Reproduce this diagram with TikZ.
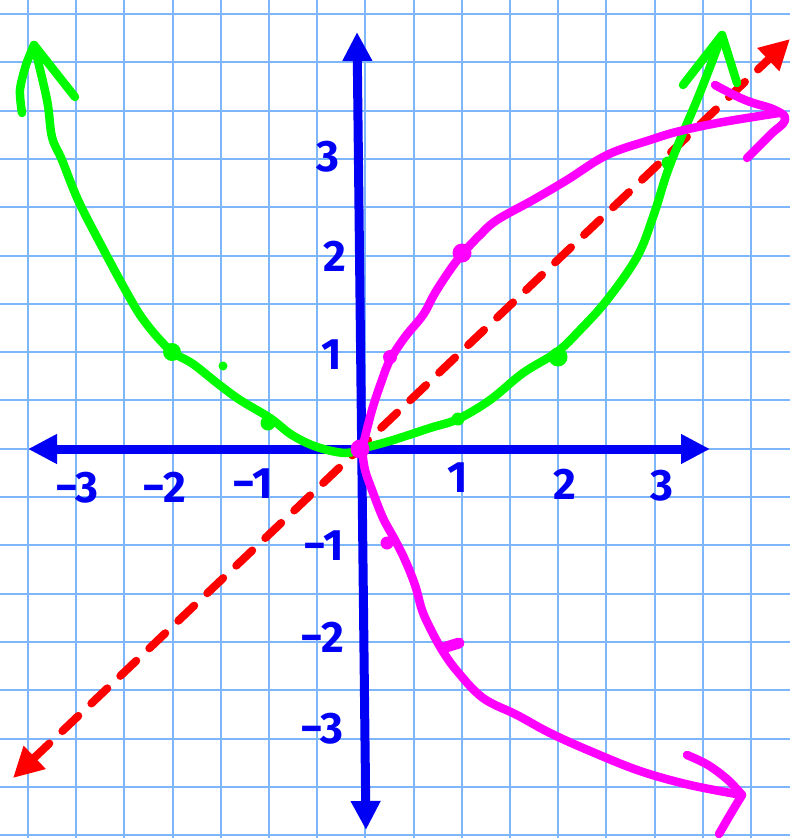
\documentclass[tikz,border=0pt]{standalone}
\usepackage{fontspec}
\setmainfont{Fira Sans}
\usetikzlibrary{arrows.meta}
\definecolor{gridblue}{RGB}{125,182,250}
\definecolor{axisblue}{RGB}{0,0,245}
\definecolor{pengreen}{RGB}{0,250,0}
\definecolor{penmag}{RGB}{255,0,255}
\definecolor{penred}{RGB}{255,0,0}
\tikzset{
  gridline/.style={gridblue,line width=2pt},
  axisline/.style={axisblue,line width=9pt},
  axtip/.tip={Triangle[length=29pt,width=28pt]},
  redtip/.tip={Triangle[length=30pt,width=30pt]},
  pen/.style={line width=8.5pt,line cap=round,line join=round},
  gpen/.style={pen,pengreen},
  mpen/.style={pen,penmag},
  rline/.style={penred,line width=8pt,line cap=round,dash pattern=on 22pt off 18pt},
  lbl/.style={text=axisblue,font=\fontsize{44}{44}\selectfont\bfseries,inner sep=0pt},
  gdot/.style={fill=pengreen},
  mdot/.style={fill=penmag}
}
\begin{document}
\begin{tikzpicture}[x=1pt,y=-1pt]
\useasboundingbox (0,0) rectangle (790,838);
\fill[white] (0,0) rectangle (790,838);
% grid
\foreach \i in {0,...,15} \draw[gridline] ({28+48.2*\i},0) -- ({28+48.2*\i},838);
\foreach \j in {0,...,17} \draw[gridline] (0,{14+48.3*\j}) -- (790,{14+48.3*\j});
% axes
\coordinate (xl) at (28,449);
\coordinate (xr) at (710,449);
\coordinate (yt) at (357,32);
\coordinate (yb) at (366,830);
\draw[axisline,axtip-axtip] (xl) -- (xr);
\draw[axisline,axtip-axtip] (yt) -- (yb);
% red dashed line y=x
\coordinate (rl) at (13,778);
\coordinate (rr) at (790,39);
\draw[rline,redtip-redtip] (rl) -- (rr);
% green parabola
\draw[gpen] plot[smooth,tension=0.6] coordinates {(34,45) (47,100) (52,137) (62,160) (78,200) (100,243) (127,293) (145,322) (170,350) (193,364) (217,383) (240,400) (270,418) (292,435) (317,447) (345,453) (360,449)};
\draw[gpen] plot[smooth] coordinates {(22,113) (20,90) (26,65) (34,45)};
\draw[gpen] (34,45) -- (75,97);
\draw[gpen] plot[smooth,tension=0.6] coordinates {(360,449) (390,441) (430,428) (458,419) (490,400) (523,373) (557,352) (580,330) (607,300) (637,257) (653,217) (667,173) (680,140) (697,100) (710,67) (722,35)};
\draw[gpen] (683,85) -- (722,35) -- (737,83);
\fill[gdot] (172,352) circle (9pt);
\fill[gdot] (268,423) circle (7.5pt);
\fill[gdot] (223,366) circle (4.5pt);
\fill[gdot] (458,419) circle (6.5pt);
\fill[gdot] (558,357) circle (9.5pt);
\fill[gdot] (668,163) circle (6.5pt);
% magenta inverse
\draw[mpen] plot[smooth,tension=0.6] coordinates {(362,449) (372,410) (382,380) (390,360) (405,337) (423,315) (435,293) (450,270) (463,253) (480,235) (497,220) (533,200) (567,180) (607,155) (650,140) (680,131) (723,122) (779,113)};
\draw[mpen] plot[smooth,tension=0.7] coordinates {(715,85) (745,100) (775,110) (785,120) (770,135) (747,158)};
\draw[mpen] plot[smooth,tension=0.6] coordinates {(362,449) (365,470) (372,490) (383,518) (395,540) (405,560) (415,585) (422,610) (430,628) (442,650) (457,671) (483,698) (517,715) (550,733) (590,751) (640,771) (690,785) (742,795)};
\draw[mpen] plot[smooth,tension=0.6] coordinates {(687,755) (708,765) (728,780) (742,795)};
\draw[mpen] plot[smooth,tension=0.6] coordinates {(742,795) (730,815) (719,834)};
\fill[mdot] (360,449) circle (9.5pt);
\fill[mdot] (390,357) circle (7pt);
\fill[mdot] (462,253) circle (9.5pt);
\fill[mdot] (387,543) circle (6.5pt);
\draw[mpen,line width=11pt] (443,648) -- (459,643);
% labels
\node[lbl] (xm3) at (77,488) {−3};
\node[lbl] (xm2) at (164,487) {−2};
\node[lbl] (xm1) at (253,484) {−1};
\node[lbl] (xp1) at (458,478) {1};
\node[lbl] (xp2) at (565,484) {2};
\node[lbl] (xp3) at (662,486) {3};
\node[lbl] (yp3) at (328,157) {3};
\node[lbl] (yp2) at (335,256) {2};
\node[lbl] (yp1) at (332,355) {1};
\node[lbl] (ym1) at (324,546) {−1};
\node[lbl] (ym2) at (322,637) {−2};
\node[lbl] (ym3) at (322,729) {−3};
\end{tikzpicture}
\end{document}
